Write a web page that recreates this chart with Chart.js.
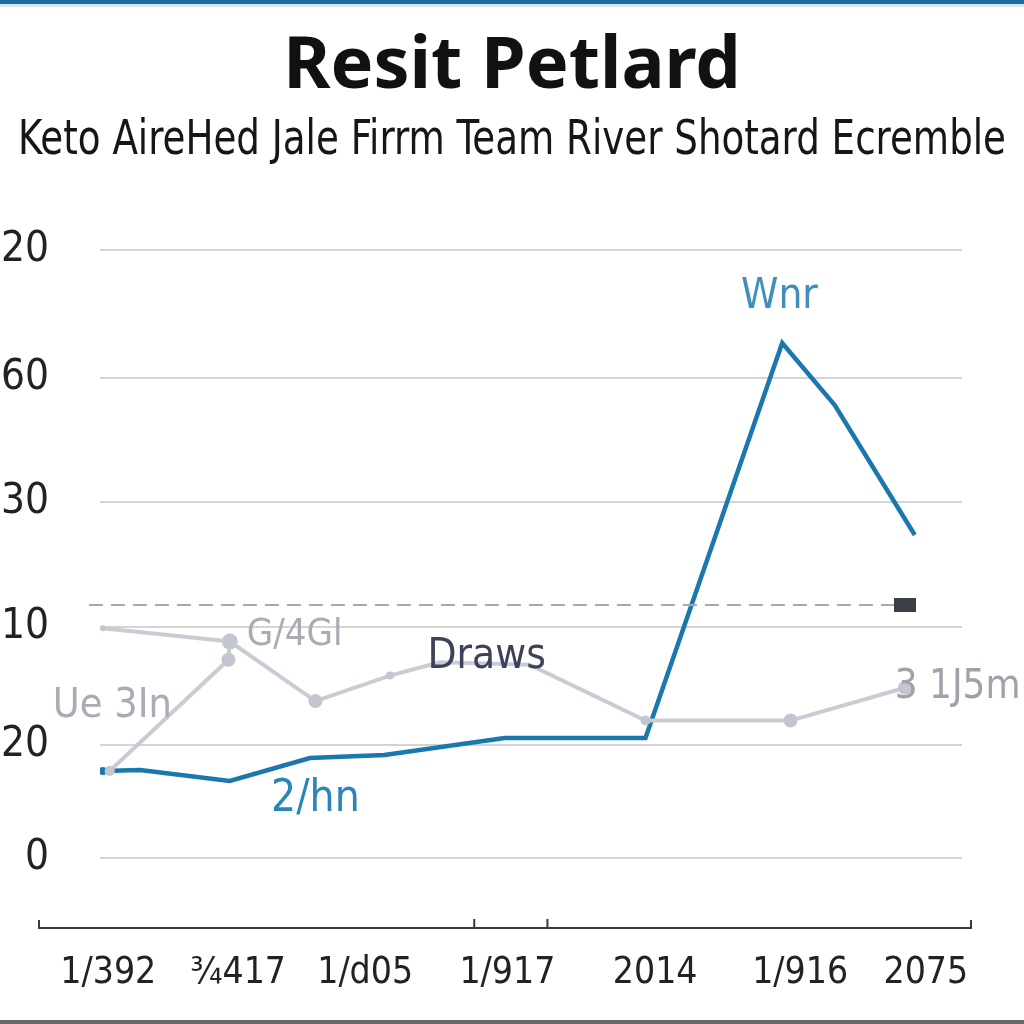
<!DOCTYPE html>
<html>
<head>
<meta charset="utf-8">
<title>Resit Petlard</title>
<script src="https://cdn.jsdelivr.net/npm/chart.js@4.4.1/dist/chart.umd.min.js"></script>
<style>
  html, body { margin: 0; padding: 0; background: #ffffff; }
  #wrap { width: 1024px; height: 1024px; position: relative; }
</style>
</head>
<body>
<div id="wrap"><canvas id="myLineChart" width="1024" height="1024"></canvas></div>
<script>
// tick labels
var xLabels = ['1/392', '¾417', '1/d05', '1/917', '2014', '1/916', '2075'];
var xTickPos = [0.06, 1.0, 1.92, 2.95, 4.02, 5.07, 5.98];
var yLabels = ['0', '20', '10', '30', '60', '20'];
var yTickPos = [0, 0.93, 1.90, 2.93, 3.95, 5.0];

// series
var blueX = [0.02, 0.29, 0.94, 1.52, 2.06, 2.93, 3.95, 4.94, 5.32, 5.90];
var blueY = [0.715, 0.724, 0.633, 0.822, 0.847, 0.987, 0.987, 4.235, 3.725, 2.656];

var grayX = [0.02, 0.94, 1.56, 2.10, 2.46, 3.11, 3.95, 5.00, 5.83];
var grayY = [1.89, 1.78, 1.29, 1.50, 1.61, 1.59, 1.13, 1.13, 1.40];

var branchX = [0.07, 0.93, 0.94];
var branchY = [0.715, 1.63, 1.78];

var dashX = [-0.08, 5.83];
var dashY = [2.08, 2.08];

// text notes on the plot
var noteText = ['Wnr', 'G/4Gl', 'Draws', 'Ue 3In', '2/hn', '3 1J5m'];
var noteX = [4.92, 1.41, 2.80, 0.09, 1.56, 6.21];
var noteY = [4.61, 1.83, 1.65, 1.25, 0.48, 1.40];
var noteColor = ['#3f8ebb', '#a9acb5', '#3d4258', '#a9acb5', '#2a86b8', '#9fa2aa'];
var noteSize = [42, 38, 42, 41, 44, 40];

// little marks on the bottom axis line
var axisMarks = [2.71, 3.24];

var narrow = '"Liberation Sans Narrow", "DejaVu Sans Condensed", sans-serif';

function pts(xs, ys) {
	var out = [];
	for (var i in xs) {
		out.push({ x: xs[i], y: ys[i] });
	}
	return out;
}

// the dark block at the end of the dashed line
var block = document.createElement('canvas');
block.width = 22;
block.height = 14;
var bctx = block.getContext('2d');
bctx.fillStyle = '#3b3e44';
bctx.fillRect(0, 0, 22, 14);

var frame = {
	id: 'frame',
	beforeDraw: function(chart) {
		var c = chart.ctx;
		c.save();
		c.fillStyle = '#ffffff';
		c.fillRect(0, 0, chart.width, chart.height);
		c.fillStyle = '#1b6fa0';
		c.fillRect(0, 0, chart.width, 4);
		c.fillStyle = '#d8e8f2';
		c.fillRect(0, 4, chart.width, 3);
		c.fillStyle = '#6a6a6a';
		c.fillRect(0, chart.height - 4, chart.width, 4);
		c.restore();
	},
	afterDraw: function(chart) {
		var c = chart.ctx;
		var a = chart.chartArea;
		var xs = chart.scales.x;
		var ys = chart.scales.y;
		c.save();
		// bottom axis line
		c.strokeStyle = '#3a3a3a';
		c.lineWidth = 3;
		c.beginPath();
		c.moveTo(a.left - 62, a.bottom);
		c.lineTo(a.right + 10, a.bottom);
		c.moveTo(a.left - 61, a.bottom);
		c.lineTo(a.left - 61, a.bottom - 8);
		c.moveTo(a.right + 9, a.bottom);
		c.lineTo(a.right + 9, a.bottom - 8);
		for (var m in axisMarks) {
			var px = xs.getPixelForValue(axisMarks[m]);
			c.moveTo(px, a.bottom);
			c.lineTo(px, a.bottom - 9);
		}
		c.lineWidth = 2;
		c.stroke();
		// notes
		c.textAlign = 'center';
		c.textBaseline = 'middle';
		for (var i in noteText) {
			c.font = noteSize[i] + 'px ' + narrow;
			c.fillStyle = noteColor[i];
			c.fillText(noteText[i], xs.getPixelForValue(noteX[i]), ys.getPixelForValue(noteY[i]));
		}
		c.restore();
	}
};

var ctx = document.getElementById('myLineChart');

var lineGraph = new Chart(ctx, {
	type: 'line',
	data: {
		datasets: [
			{
				label: 'dash',
				data: pts(dashX, dashY),
				borderColor: '#a7a9ae',
				borderWidth: 2,
				borderDash: [14, 8],
				pointRadius: [0, 8],
				pointStyle: [false, block],
				clip: false
			},
			{
				label: 'gray',
				data: pts(grayX, grayY),
				borderColor: '#c9ccd4',
				backgroundColor: '#c3c6cf',
				borderWidth: 4,
				pointRadius: [3, 6, 7, 4, 0, 0, 5, 7, 7],
				pointBorderWidth: 0
			},
			{
				label: 'branch',
				data: pts(branchX, branchY),
				borderColor: '#c9ccd4',
				backgroundColor: '#c3c6cf',
				borderWidth: 4,
				pointRadius: [5, 7, 8],
				pointBorderWidth: 0
			},
			{
				label: 'blue',
				data: pts(blueX, blueY),
				borderColor: '#1b78ac',
				backgroundColor: '#1b78ac',
				borderWidth: 4.5,
				pointRadius: [4, 0, 0, 0, 0, 0, 0, 0, 0, 0],
				pointBorderWidth: 0
			}
		]
	},
	options: {
		responsive: false,
		animation: false,
		layout: { padding: { top: 24, left: 18, right: 18, bottom: 0 } },
		plugins: {
			legend: { display: false },
			tooltip: { enabled: false },
			title: {
				display: true,
				text: 'Resit Petlard',
				color: '#111111',
				font: { family: '"Noto Sans", sans-serif', size: 72, weight: 'bold' },
				padding: { top: 0, bottom: 0 }
			},
			subtitle: {
				display: true,
				text: 'Keto AireHed Jale Firrm Team River Shotard Ecremble',
				color: '#161616',
				font: { family: narrow, size: 48 },
				padding: { top: 2, bottom: 80 }
			}
		},
		scales: {
			x: {
				type: 'linear',
				min: 0,
				max: 6.242,
				border: { display: false },
				grid: { display: false, drawTicks: false },
				afterBuildTicks: function(scale) {
					scale.ticks = xTickPos.map(function(v) { return { value: v }; });
				},
				afterFit: function(scale) { scale.height = 96; },
				ticks: {
					padding: 23,
					color: '#222222',
					font: { family: narrow, size: 37 },
					maxRotation: 0,
					autoSkip: false,
					callback: function(v, i) { return xLabels[i]; }
				}
			},
			y: {
				type: 'linear',
				min: -0.576,
				max: 5.0,
				border: { display: false },
				grid: { color: '#d4d4d4', lineWidth: 2, drawTicks: false },
				afterBuildTicks: function(scale) {
					scale.ticks = yTickPos.map(function(v) { return { value: v }; });
				},
				afterFit: function(scale) { scale.width = 82; },
				ticks: {
					// mirrored so the labels may run into the left margin
					mirror: true,
					crossAlign: 'far',
					padding: -99,
					color: '#222222',
					font: { family: narrow, size: 42 },
					autoSkip: false,
					callback: function(v, i) { return yLabels[i]; }
				}
			},
			// empty right axis that only keeps the right margin
			yRight: {
				type: 'linear',
				position: 'right',
				border: { display: false },
				grid: { display: false, drawTicks: false },
				ticks: { display: false },
				afterFit: function(scale) { scale.width = 44; }
			}
		}
	},
	plugins: [frame]
});
</script>
</body>
</html>
